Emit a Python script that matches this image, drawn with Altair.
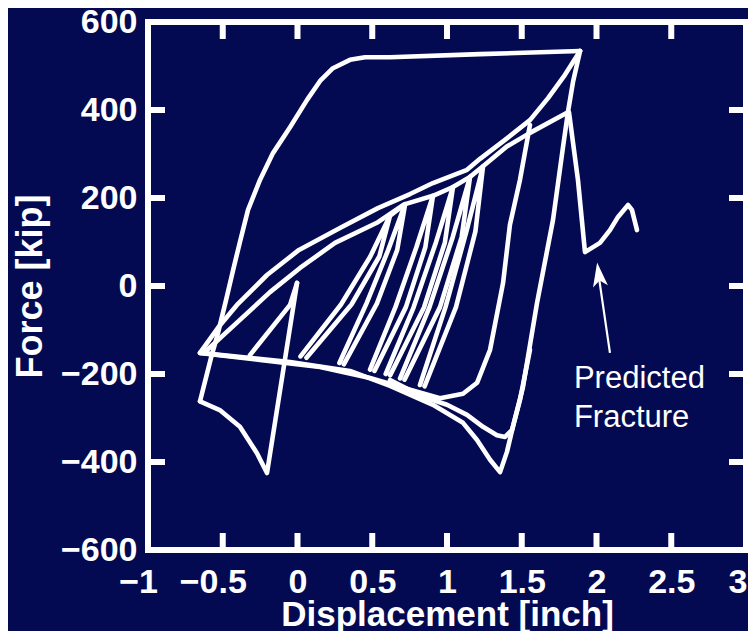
import altair as alt
import pandas as pd

FONT = "Liberation Sans"

# ---- hysteresis branches (displacement [inch], force [kip]) ----
outer_up_x = [-0.652, -0.579, -0.532, -0.478, -0.431, -0.385, -0.331, -0.251, -0.164, -0.050, 0.064, 0.151, 0.237, 0.351, 0.452, 0.619, 1.221, 1.890]
outer_up_y = [-262, -164, -107, -32, 36, 100, 173, 241, 302, 361, 423, 466, 495, 514, 520, 520, 527, 534]

outer_low_x = [-0.652, -0.520, -0.385, -0.271, -0.204, -0.003]
outer_low_y = [-262, -282, -320, -380, -425, 7]

spike_x = [-0.318, -0.050, -0.003]
spike_y = [-157, -43, 7]

envelope_x = [-0.652, -0.532, -0.405, -0.204, 0.010, 0.284, 0.538, 0.753, 0.906, 1.134, 1.221, 1.388, 1.555, 1.676, 1.789, 1.890]
envelope_y = [-152, -95, -43, 25, 82, 132, 177, 209, 234, 264, 289, 332, 377, 427, 480, 534]

arc2_x = [-0.619, -0.385, -0.184, 0.017, 0.251, 0.538, 0.706]
arc2_y = [-150, -77, -14, 41, 98, 145, 184]

tops_x = [0.619, 0.720, 0.906, 1.040, 1.154, 1.241, 1.400, 1.555, 1.809]
tops_y = [160, 186, 205, 225, 248, 272, 317, 348, 395]

loop250_x = [1.555, 1.488, 1.421, 1.375, 1.288, 1.201, 1.107, 0.953, 0.753, 0.485, 0.151, -0.251, -0.652]
loop250_y = [366, 241, 139, 7, -145, -220, -245, -255, -236, -209, -184, -168, -152]

outer420_x = [-0.652, -0.050, 0.351, 0.619, 0.906, 1.107, 1.201, 1.288, 1.355, 1.401, 1.441, 1.508, 1.602, 1.709, 1.776, 1.809, 1.843, 1.890]
outer420_y = [-152, -173, -193, -227, -270, -311, -350, -395, -423, -377, -320, -230, -39, 150, 316, 395, 464, 534]

inner340_x = [0.619, 0.839, 1.000, 1.134, 1.241, 1.334, 1.388, 1.435, 1.488, 1.555]
inner340_y = [-214, -252, -270, -293, -320, -339, -343, -327, -259, -145]

fracture_x = [1.816, 1.876, 1.923, 2.023, 2.090, 2.144, 2.211, 2.237, 2.271]
fracture_y = [395, 241, 77, 98, 127, 157, 184, 173, 127]

leaf1_x = [0.020, 0.291, 0.487, 0.619, 0.547, 0.361, 0.060]
leaf1_y = [-160, -42, 67, 160, 67, -42, -163]
leaf2_x = [0.280, 0.461, 0.607, 0.720, 0.667, 0.531, 0.310]
leaf2_y = [-175, -40, 82, 186, 82, -40, -178]
leaf3_x = [0.485, 0.655, 0.795, 0.906, 0.855, 0.725, 0.515]
leaf3_y = [-190, -48, 88, 205, 88, -48, -193]
leaf4_x = [0.590, 0.776, 0.926, 1.040, 0.986, 0.846, 0.620]
leaf4_y = [-200, -49, 99, 225, 99, -49, -203]
leaf5_x = [0.686, 0.883, 1.038, 1.154, 1.098, 0.953, 0.716]
leaf5_y = [-210, -48, 111, 248, 111, -48, -213]
leaf6_x = [0.819, 0.990, 1.130, 1.241, 1.190, 1.060, 0.850]
leaf6_y = [-225, -48, 124, 272, 124, -48, -228]

# annotation
arrow_x = [2.090, 2.016]
arrow_y = [-152, 20]
head_x = [2.018]
head_y = [19.5]
note_x = [1.849]
note_y = [-232]
note_text = ["Predicted\nFracture"]

x_ticks = [-1, -0.5, 0, 0.5, 1, 1.5, 2, 2.5, 3]
x_inner_ticks = [-0.5, 0, 0.5, 1, 1.5, 2, 2.5]
y_ticks = [-600, -400, -200, 0, 200, 400, 600]
y_inner_ticks = [-400, -200, 0, 200, 400]
x_lo, x_hi = -1, 3
y_lo, y_hi = -600, 600

branches = {
    "outer_up": (outer_up_x, outer_up_y),
    "outer_low": (outer_low_x, outer_low_y),
    "spike": (spike_x, spike_y),
    "envelope": (envelope_x, envelope_y),
    "arc2": (arc2_x, arc2_y),
    "tops": (tops_x, tops_y),
    "loop250": (loop250_x, loop250_y),
    "outer420": (outer420_x, outer420_y),
    "inner340": (inner340_x, inner340_y),
    "fracture": (fracture_x, fracture_y),
    "leaf1": (leaf1_x, leaf1_y),
    "leaf2": (leaf2_x, leaf2_y),
    "leaf3": (leaf3_x, leaf3_y),
    "leaf4": (leaf4_x, leaf4_y),
    "leaf5": (leaf5_x, leaf5_y),
    "leaf6": (leaf6_x, leaf6_y),
}
rows = []
for name, (xs_, ys_) in branches.items():
    for i, (xv, yv) in enumerate(zip(xs_, ys_)):
        rows.append({"branch": name, "order": i, "disp": xv, "force": yv})
df = pd.DataFrame(rows)

arrow_df = pd.DataFrame({"disp": arrow_x, "force": arrow_y})
head_df = pd.DataFrame({"disp": head_x, "force": head_y})
note_df = pd.DataFrame({"disp": note_x, "force": note_y, "label": note_text})
xtick_df = pd.DataFrame({"disp": x_inner_ticks})
ytick_df = pd.DataFrame({"force": y_inner_ticks})

xs = alt.Scale(domain=[x_lo, x_hi], nice=False, zero=False)
ys = alt.Scale(domain=[y_lo, y_hi], nice=False, zero=False)

x_main = alt.Axis(
    orient="bottom", values=x_ticks, format=".1~f", labelFlush=False, labelOverlap=False,
    ticks=False, tickSize=0, domain=False, labelPadding=15,
    labelAlign={"condition": {"test": "datum.value >= 3", "value": "right"}, "value": "center"},
    labelOffset={"condition": [
        {"test": "datum.value < 0", "value": -10},
        {"test": "datum.value >= 3", "value": 1},
    ], "value": 0},
    title="Displacement [inch]", titleX=299, titleY=75, titleAlign="center",
    titleBaseline="alphabetic", titleFontSize=35,
)
y_main = alt.Axis(
    orient="left", values=y_ticks, format="d", labelOverlap=False,
    ticks=False, tickSize=0, domain=False, labelPadding=11,
    title="Force [kip]", titleX=-107, titleY=264, titleAngle=270, titleAlign="center",
    titleBaseline="alphabetic",
)

lines = alt.Chart(df).mark_line(color="white", strokeWidth=4.6, strokeJoin="round", strokeCap="round").encode(
    x=alt.X("disp:Q", scale=xs, axis=x_main),
    y=alt.Y("force:Q", scale=ys, axis=y_main),
    detail="branch:N",
    order="order:Q",
)

TICK_LEN = 17
tick_style = dict(color="white", strokeWidth=6, strokeCap="butt")

ticks_bottom = alt.Chart(xtick_df).mark_rule(y2Offset=-TICK_LEN, **tick_style).encode(
    x=alt.X("disp:Q", scale=xs, axis=None),
    y=alt.YDatum(y_lo, axis=None), y2=alt.Y2Datum(y_lo),
)
ticks_top = alt.Chart(xtick_df).mark_rule(y2Offset=TICK_LEN, **tick_style).encode(
    x=alt.X("disp:Q", scale=xs, axis=None),
    y=alt.YDatum(y_hi, axis=None), y2=alt.Y2Datum(y_hi),
)
ticks_left = alt.Chart(ytick_df).mark_rule(x2Offset=TICK_LEN, **tick_style).encode(
    y=alt.Y("force:Q", scale=ys, axis=None),
    x=alt.XDatum(x_lo, axis=None), x2=alt.X2Datum(x_lo),
)
ticks_right = alt.Chart(ytick_df).mark_rule(x2Offset=-TICK_LEN, **tick_style).encode(
    y=alt.Y("force:Q", scale=ys, axis=None),
    x=alt.XDatum(x_hi, axis=None), x2=alt.X2Datum(x_hi),
)

shaft = alt.Chart(arrow_df).mark_line(color="white", strokeWidth=2.2).encode(
    x=alt.X("disp:Q", scale=xs, axis=None),
    y=alt.Y("force:Q", scale=ys, axis=None),
)

head = alt.Chart(head_df).mark_point(
    shape="M0,-1L0.5,0.6L0,0.2L-0.5,0.6Z", filled=True, size=900, angle=352,
    color="white", opacity=1, strokeWidth=0,
).encode(
    x=alt.X("disp:Q", scale=xs, axis=None),
    y=alt.Y("force:Q", scale=ys, axis=None),
)

note = alt.Chart(note_df).mark_text(
    align="left", baseline="alphabetic", font=FONT, fontSize=31, color="white",
    lineBreak="\n", lineHeight=39,
).encode(
    x=alt.X("disp:Q", scale=xs, axis=None),
    y=alt.Y("force:Q", scale=ys, axis=None),
    text="label:N",
)

chart = alt.layer(
    lines, ticks_bottom, ticks_top, ticks_left, ticks_right, shaft, head, note
).resolve_axis(
    x="independent", y="independent"
).properties(
    width=598, height=528,
    padding={"left": 140, "top": 14, "right": 2, "bottom": 81},
    autosize=alt.AutoSizeParams(type="none"),
).configure(
    background="#040a52",
).configure_view(
    stroke="white", strokeWidth=6,
).configure_axis(
    grid=False, labelColor="white", titleColor="white",
    labelFont=FONT, titleFont=FONT, labelFontSize=34, labelFontWeight="bold",
    titleFontSize=36, titleFontWeight="bold",
)

chart.save("out.html", embed_options={"renderer": "svg", "actions": False})
